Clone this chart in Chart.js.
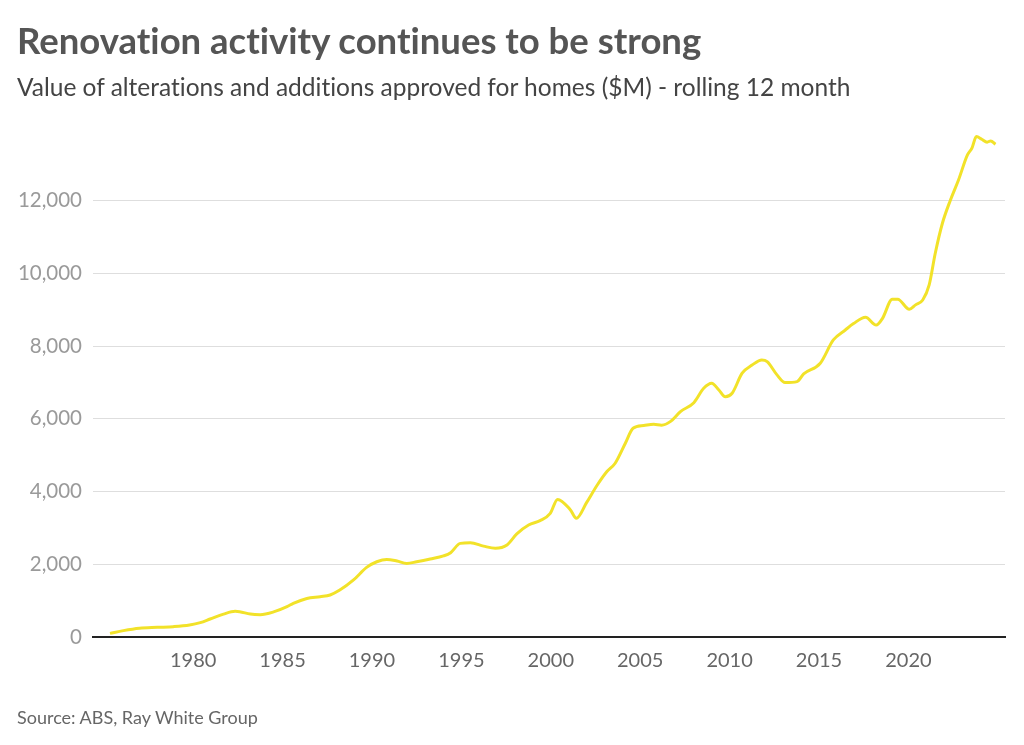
<!DOCTYPE html>
<html lang="en">
<head>
    <meta charset="UTF-8">
    <title>Renovation activity continues to be strong</title>
    <script src="https://cdn.jsdelivr.net/npm/chart.js"></script>
    <style>
        body {
            margin: 0;
            background: #fff;
            font-family: Lato, Arial, sans-serif;
            font-variant-ligatures: none;
        }

        .wrap {
            position: relative;
            width: 1024px;
            height: 745px;
            overflow: hidden;
        }

        h1 {
            position: absolute;
            left: 17px;
            top: 18px;
            margin: 0;
            font-size: 36.5px;
            font-weight: 700;
            color: #555;
        }

        .sub {
            position: absolute;
            left: 17px;
            top: 72px;
            font-size: 24.5px;
            color: #444;
        }

        .source {
            position: absolute;
            left: 17px;
            top: 706px;
            font-size: 18px;
            color: #666;
        }

        canvas {
            position: absolute;
            left: 0;
            top: 0;
        }
    </style>
</head>
<body>
    <div class="wrap">
        <canvas id="myChart" width="1024" height="745"></canvas>
        <h1>Renovation activity continues to be strong</h1>
        <div class="sub">Value of alterations and additions approved for homes ($M) - rolling 12 month</div>
        <div class="source">Source: ABS, Ray White Group</div>
    </div>

    <script>
        // values (year, $M rolling 12 month)
        const years = [
            1975.35, 1976.1, 1977.0, 1978.0, 1978.9, 1979.8, 1980.4, 1980.95, 1981.7, 1982.35,
            1982.6, 1983.2, 1983.75, 1984.5, 1985.25, 1985.6, 1986.36, 1987.1, 1987.66, 1988.2,
            1988.97, 1989.7, 1990.27, 1990.83, 1991.4, 1991.95, 1992.5, 1993.26, 1994.0, 1994.4,
            1994.94, 1995.5, 1996.24, 1996.9, 1997.55, 1998.1, 1998.76, 1999.4, 1999.97, 2000.38,
            2001.1, 2001.43, 2002.0, 2002.6, 2003.14, 2003.6, 2004.17, 2004.6, 2005.2, 2005.75,
            2006.2, 2006.7, 2007.25, 2008.0, 2008.55, 2009.0, 2009.4, 2009.76, 2010.14, 2010.7,
            2011.26, 2011.8, 2012.1, 2012.65, 2013.1, 2013.77, 2014.14, 2015.07, 2015.8, 2016.47,
            2016.93, 2017.6, 2018.2, 2018.55, 2019.1, 2019.4, 2020.05, 2020.4, 2020.8, 2021.16,
            2021.5, 2021.9, 2022.35, 2022.8, 2023.3, 2023.55, 2023.8, 2024.1, 2024.4, 2024.6,
            2024.87
        ];
        const values = [
            100, 175, 240, 265, 285, 330, 395, 495, 630, 705,
            695, 630, 615, 690, 835, 925, 1060, 1110, 1155, 1290,
            1570, 1915, 2070, 2135, 2090, 2025, 2070, 2145, 2230, 2320,
            2575, 2590, 2500, 2440, 2530, 2835, 3080, 3200, 3400, 3785,
            3495, 3265, 3695, 4180, 4550, 4780, 5330, 5740, 5815, 5850,
            5825, 5930, 6200, 6445, 6840, 6980, 6795, 6610, 6705, 7255,
            7480, 7620, 7575, 7210, 7000, 7025, 7235, 7530, 8170, 8445,
            8620, 8795, 8580, 8765, 9290, 9290, 9015, 9135, 9270, 9685,
            10555, 11380, 12020, 12570, 13260, 13445, 13765, 13690, 13610, 13645,
            13555
        ];
        const xTicks = [1980, 1985, 1990, 1995, 2000, 2005, 2010, 2015, 2020];
        const yTicks = [0, 2000, 4000, 6000, 8000, 10000, 12000];

        const points = years.map((y, i) => ({ x: y, y: values[i] }));

        const ctx = document.getElementById('myChart').getContext('2d');
        new Chart(ctx, {
            type: 'line',
            data: {
                datasets: [{
                    data: points,
                    borderColor: '#f2e229',
                    borderWidth: 3,
                    pointRadius: 0,
                    cubicInterpolationMode: 'monotone',
                    fill: false
                }]
            },
            options: {
                responsive: false,
                animation: false,
                layout: { padding: { left: 0, right: 19, top: 128, bottom: 0 } },
                plugins: {
                    legend: { display: false },
                    tooltip: { enabled: false }
                },
                scales: {
                    x: {
                        type: 'linear',
                        min: 1974.4,
                        max: 2025.4,
                        afterBuildTicks: (axis) => {
                            axis.ticks = xTicks.map(v => ({ value: v }));
                        },
                        afterFit: (scale) => { scale.height = 108; },
                        grid: { display: false, drawTicks: false },
                        border: { display: true, color: '#222', width: 2 },
                        ticks: {
                            padding: 12,
                            color: '#666',
                            font: { family: 'Lato', size: 20 },
                            callback: (v) => String(v)
                        }
                    },
                    y: {
                        min: 0,
                        max: 14000,
                        afterBuildTicks: (axis) => {
                            axis.ticks = yTicks.map(v => ({ value: v }));
                        },
                        afterFit: (scale) => { scale.width = 93; },
                        grid: { color: '#dedede', lineWidth: 1, drawTicks: false },
                        border: { display: false },
                        ticks: {
                            padding: 11,
                            color: '#9a9a9a',
                            font: { family: 'Lato', size: 20.5 },
                            callback: (v) => v.toLocaleString('en-US')
                        }
                    }
                }
            }
        });
    </script>
</body>
</html>
